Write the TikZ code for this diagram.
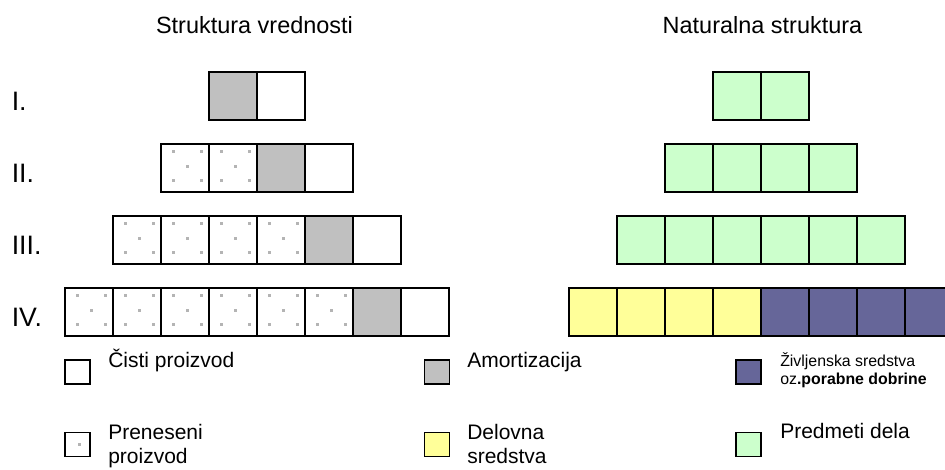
\documentclass[tikz,border=0pt]{standalone}
\usepackage{fontspec}
\setmainfont{Liberation Sans}
\definecolor{amgray}{HTML}{C0C0C0}
\definecolor{dotgray}{HTML}{B4B4B4}
\definecolor{matgreen}{HTML}{CCFFCC}
\definecolor{wyellow}{HTML}{FFFF99}
\definecolor{durpurple}{HTML}{666699}
\begin{document}
\begin{tikzpicture}[x=0.75pt,y=-0.75pt,
  cell/.style={draw=black, line width=1.1pt, minimum width=36pt, minimum height=36pt,
    inner sep=0pt, outer sep=0pt, anchor=north west},
  dots/.style={path picture={
    \foreach \dx/\dy in {#1}
      \fill[dotgray, shift={(path picture bounding box.center)}]
        (\dx-1.5,\dy-1.5) rectangle ++(3,3);}},
  netcell/.style={cell, fill=white},
  amcell/.style={cell, fill=amgray},
  trcell/.style={cell, fill=white,
    dots={-12/-16.3, 16/-16.3, 2.6/-1.7, -12/12.7, 16/12.7}},
  matcell/.style={cell, fill=matgreen},
  workcell/.style={cell, fill=wyellow},
  durcell/.style={cell, fill=durpurple},
  keybox/.style={draw=black, line width=1.1pt, minimum width=18.75pt, minimum height=18pt,
    inner sep=0pt, outer sep=0pt, anchor=north west},
  title/.style={font=\fontsize{17.6}{21}\selectfont, anchor=base, inner sep=0pt},
  numeral/.style={font=\fontsize{20}{24}\selectfont, anchor=base west, inner sep=0pt},
  keytext/.style={font=\fontsize{15.75}{18}\selectfont, anchor=base west, inner sep=0pt},
  keytwo/.style={font=\fontsize{15.75}{18}\selectfont, align=left, anchor=north west, inner sep=0pt},
  keysmall/.style={font=\fontsize{11.9}{13.8}\selectfont, align=left, anchor=north west, inner sep=0pt}]
\useasboundingbox (0,0) rectangle (945,469);
\clip (0,0) rectangle (945,469);

% column titles
\node[title] (tval) at (254.5,33.3) {Struktura vrednosti};
\node[title] (tnat) at (762.5,33.3) {Naturalna struktura};

% row numerals
\node[numeral] (r1) at (11.5,110) {I.};
\node[numeral] (r2) at (11.5,182) {II.};
\node[numeral] (r3) at (11.5,254) {III.};
\node[numeral] (r4) at (11.5,326) {IV.};

% value structure: transferred product cells
\foreach \k in {2,3,4} {
  \pgfmathtruncatemacro\ncnt{2*\k-2}
  \foreach \i in {1,...,\ncnt}
    \node[trcell] (v\k-\i) at ({209-48*(\k-1)+48*(\i-1)},{72*\k}) {};
}
% value structure: amortization and net product
\foreach \k in {1,...,4} {
  \node[amcell] (v\k-a) at ({161+48*\k},{72*\k}) {};
  \node[netcell] (v\k-c) at ({209+48*\k},{72*\k}) {};
}

% natural structure: objects of labour
\foreach \k in {1,2,3} {
  \pgfmathtruncatemacro\ncnt{2*\k}
  \foreach \i in {1,...,\ncnt}
    \node[matcell] (n\k-\i) at ({713-48*(\k-1)+48*(\i-1)},{72*\k}) {};
}
% natural structure: means of labour and durable goods
\foreach \i in {1,...,4}
  \node[workcell] (n4-\i) at ({569+48*(\i-1)},288) {};
\foreach \i in {5,...,8}
  \node[durcell] (n4-\i) at ({569+48*(\i-1)},288) {};

% legend
\node[keybox, fill=white] (k1) at (65,360) {};
\node[keytext] (k1t) at (108,367) {Čisti proizvod};
\node[keybox, fill=white, dots={1.5/-0.5}] (k2) at (65,432.5) {};
\node[keytwo] (k2t) at (108,424) {Preneseni\\proizvod};

\node[keybox, fill=amgray] (k3) at (424.5,360) {};
\node[keytext] (k3t) at (467,367) {Amortizacija};
\node[keybox, fill=wyellow] (k4) at (424.5,432.5) {};
\node[keytwo] (k4t) at (467,424) {Delovna\\sredstva};

\node[keybox, fill=durpurple] (k5) at (736,360) {};
\node[keysmall] (k5t) at (780,352) {Življenska sredstva\\oz\textbf{.porabne dobrine}};
\node[keybox, fill=matgreen] (k6) at (736,432.5) {};
\node[keytext] (k6t) at (780,438.5) {Predmeti dela};
\end{tikzpicture}
\end{document}
